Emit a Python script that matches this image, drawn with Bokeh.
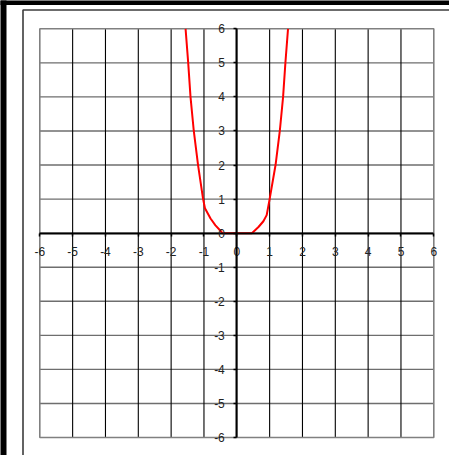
from bokeh.plotting import figure
from bokeh.models import FixedTicker
from bokeh.embed import file_html
from bokeh.resources import INLINE

# ---- data ----
x_ticks = [-6, -5, -4, -3, -2, -1, 0, 1, 2, 3, 4, 5, 6]
x_tick_labels = ["-6", "-5", "-4", "-3", "-2", "-1", "0", "1", "2", "3", "4", "5", "6"]
y_ticks = [-6, -5, -4, -3, -2, -1, 0, 1, 2, 3, 4, 5, 6]
y_tick_labels = ["-6", "-5", "-4", "-3", "-2", "-1", "0", "1", "2", "3", "4", "5", "6"]

curve_x = [-1.56, -1.48, -1.41, -1.31, -1.18, -1.03, -0.97, -0.80, -0.65, -0.47, -0.44,
           0.46, 0.66, 0.81, 0.91, 1.00, 1.18, 1.31, 1.41, 1.48, 1.56]
curve_y = [6.0, 5.0, 4.0, 3.0, 2.0, 1.02, 0.73, 0.43, 0.23, 0.04, 0.0,
           0.0, 0.18, 0.35, 0.53, 1.0, 2.0, 3.0, 4.0, 5.0, 6.0]

# ---- layout geometry (pixels) ----
W, H = 449, 455
PL, PR, PT, PB = 39.3, 433.3, 28.3, 437.0   # plot-area edges in pixels
UX = (PR - PL) / 12.0
UY = (PB - PT) / 12.0
X0 = -6 - PL / UX
X1 = X0 + W / UX
Y1 = 6 + PT / UY
Y0 = Y1 - H / UY


def px_x(px):
    return X0 + px / UX


def px_y(py):
    return Y1 - py / UY


p = figure(width=W, height=H, x_range=(X0, X1), y_range=(Y0, Y1),
           output_backend="svg", toolbar_location=None, min_border=0)
p.xgrid.visible = False
p.ygrid.visible = False
p.outline_line_color = None
p.background_fill_color = "white"
p.border_fill_color = "white"

# outer decorative frame
p.quad(left=[px_x(-2)], right=[px_x(6)], top=[px_y(-2)], bottom=[px_y(H + 2)],
       fill_color="black", line_color=None)
p.quad(left=[px_x(-2)], right=[px_x(W + 2)], top=[px_y(-2)], bottom=[px_y(4.5)],
       fill_color="black", line_color=None)
p.line(x=[px_x(22.5), px_x(22.5), px_x(W + 5)], y=[px_y(H + 5), px_y(9.5), px_y(9.5)],
       line_color="#3c3c3c", line_width=1.6)

# grid inside the plot area
inner_x = [t for t in x_ticks if t not in (x_ticks[0], x_ticks[-1])]
inner_y = [t for t in y_ticks if t not in (y_ticks[0], y_ticks[-1])]
p.segment(x0=[x_ticks[0]] * len(inner_y), y0=inner_y,
          x1=[x_ticks[-1]] * len(inner_y), y1=inner_y,
          line_color="#6e6e6e", line_width=1.4)
p.segment(x0=inner_x, y0=[y_ticks[0]] * len(inner_x),
          x1=inner_x, y1=[y_ticks[-1]] * len(inner_x),
          line_color="black", line_width=1.1)
p.quad(left=[x_ticks[0]], right=[x_ticks[-1]], bottom=[y_ticks[0]], top=[y_ticks[-1]],
       fill_color=None, line_color="#808080", line_width=1.6)

# curve
p.line(curve_x, curve_y, line_color="#ff0000", line_width=2)

# axes crossing at the origin
for ax, ticks, labels in ((p.xaxis[0], x_ticks, x_tick_labels),
                          (p.yaxis[0], y_ticks, y_tick_labels)):
    ax.fixed_location = 0
    ax.bounds = (ticks[0], ticks[-1])
    ax.ticker = FixedTicker(ticks=ticks)
    ax.major_label_overrides = {t: l for t, l in zip(ticks, labels)}
    ax.axis_line_color = "black"
    ax.axis_line_width = 2
    ax.major_tick_line_color = "black"
    ax.major_tick_line_width = 1.5
    ax.major_tick_out = 3
    ax.major_tick_in = 0
    ax.minor_tick_line_color = None
    ax.major_label_text_font = "Liberation Sans"
    ax.major_label_text_font_size = "12px"
    ax.major_label_text_color = "#222222"

p.xaxis[0].major_label_standoff = 11
p.yaxis[0].major_label_standoff = 9

open("out.html", "w").write(file_html(p, INLINE))
